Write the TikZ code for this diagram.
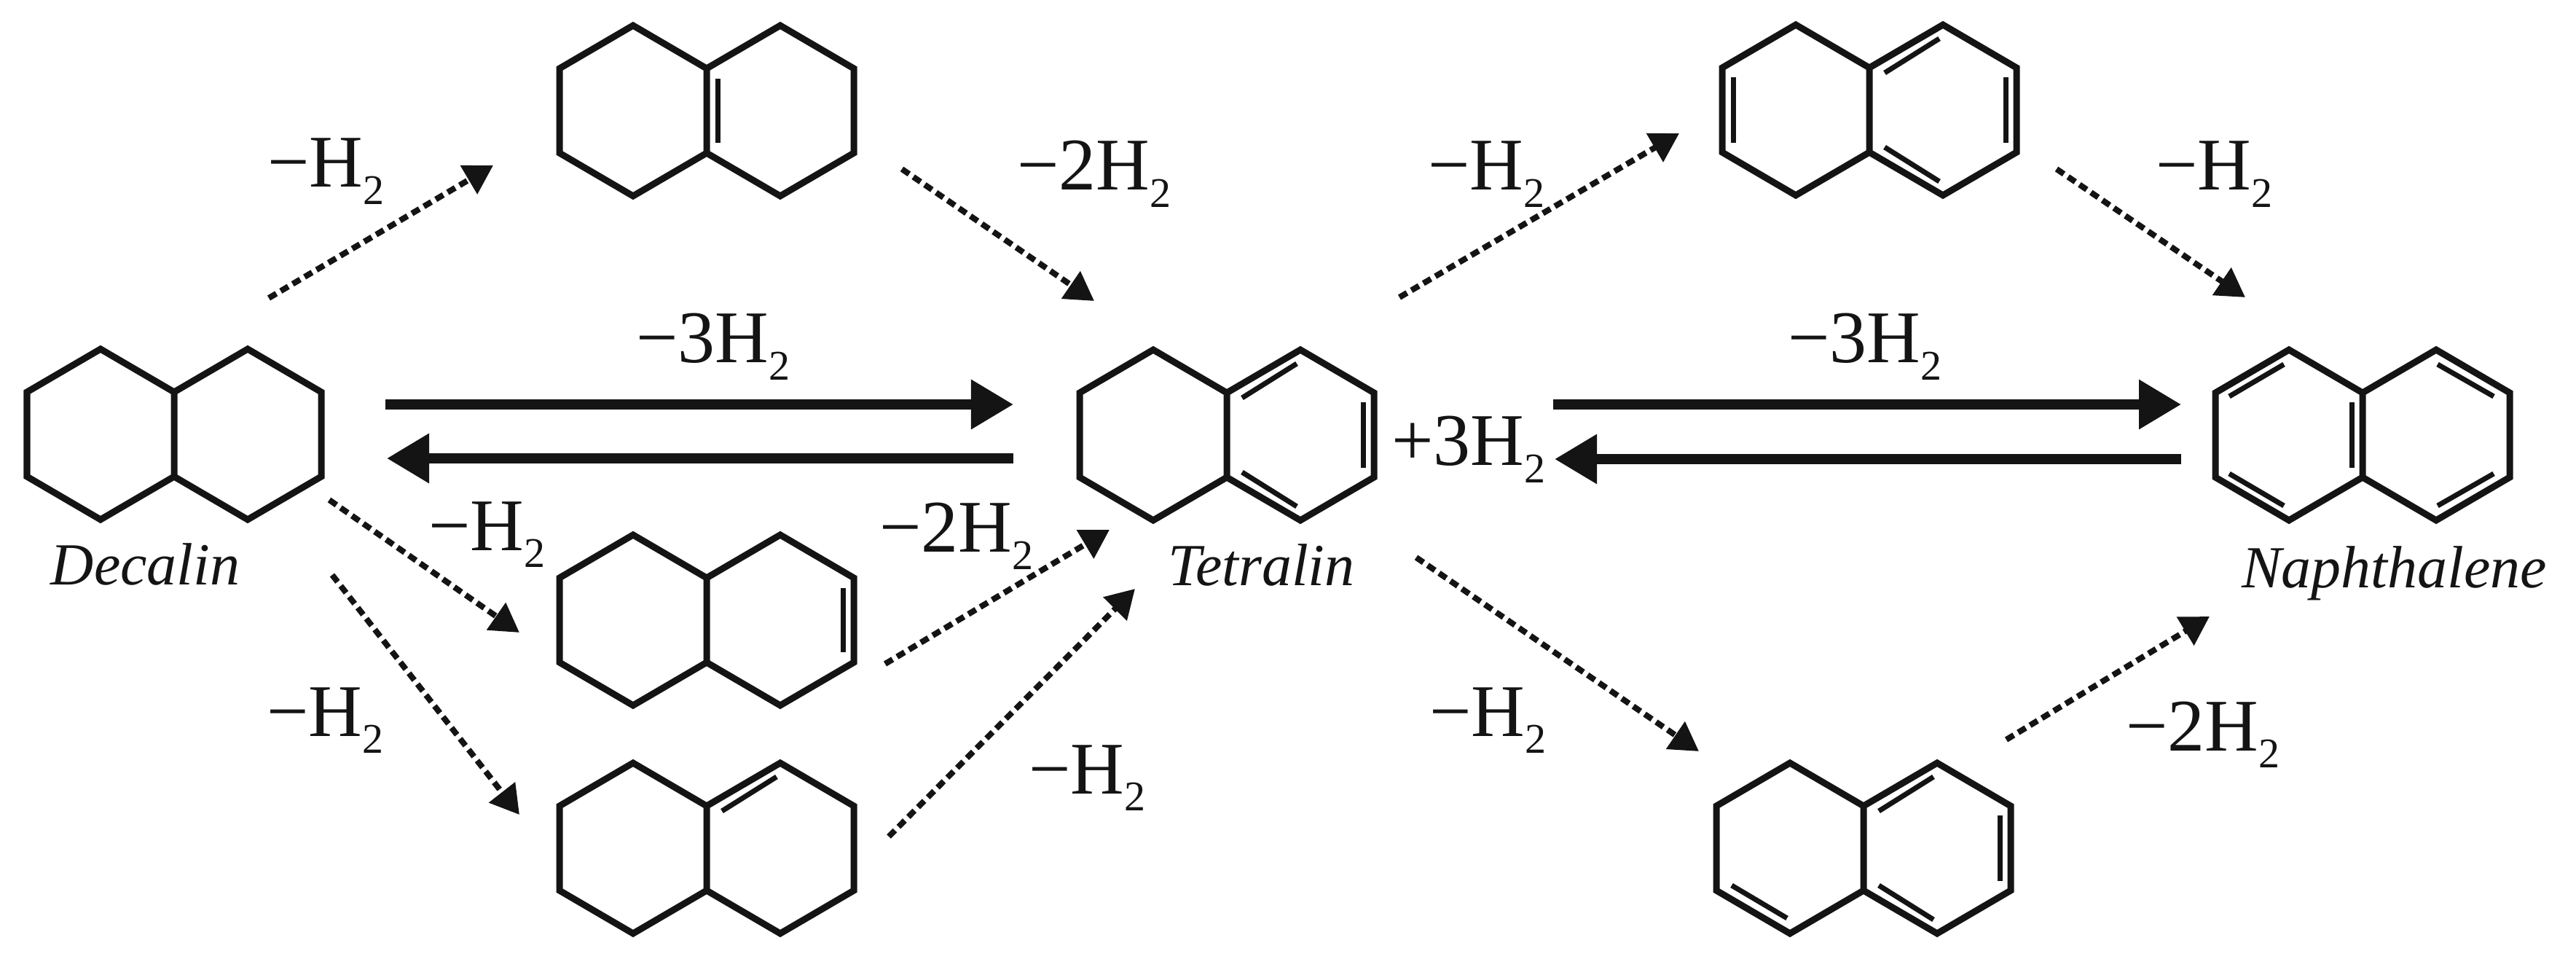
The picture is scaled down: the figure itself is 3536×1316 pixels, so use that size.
\documentclass[tikz,border=0pt]{standalone}
\usepackage{fontspec}
\setmainfont{Liberation Serif}
\usetikzlibrary{arrows.meta}
\definecolor{ink}{HTML}{141414}
\newcommand{\htwo}{H\raisebox{-0.23em}{\fontsize{16.5}{17}\selectfont 2}}
\tikzset{
	bond/.style={draw=ink, line width=0.09cm, line join=miter},
	inner/.style={draw=ink, line width=0.07cm},
	dashedarrow/.style={draw=ink, line width=0.08cm, dash pattern=on 0.12cm off 0.07cm, -{Triangle[length=0.39cm,width=0.44cm]}},
	fullarrow/.style={draw=ink, line width=0.13cm, -{Triangle[length=0.58cm,width=0.65cm]}},
	loss/.style={anchor=base west, inner sep=0pt, outer sep=0pt, text=ink, font=\fontsize{29}{30}\selectfont},
	title/.style={anchor=base west, inner sep=0pt, outer sep=0pt, text=ink, font=\fontsize{23.3}{25}\selectfont\itshape},
	twinring/.pic={
		\draw[bond] (-202,-58) -- (-101,-117) -- (0,-58) -- (101,-117) -- (202,-58) -- (202,58)
			-- (101,117) -- (0,58) -- (-101,117) -- (-202,58) -- cycle (0,-58) -- (0,58);
	}
}
\begin{document}
\begin{tikzpicture}[x=0.01cm, y=-0.01cm]
	\useasboundingbox (0,0) rectangle (3536,1316);
	\fill[white] (0,0) rectangle (3536,1316);
	% the seven molecules
	\foreach \mol/\x/\y in {decalin/239/596, octalinA/970/152, octalinB/970/851, octalinC/970/1164,
		tetralin/1684/597, dihydroA/2566/151, dihydroB/2558/1164, naphthalene/3243/597}{
		\coordinate (\mol) at (\x,\y);
		\pic at (\mol) {twinring};
	}
	% inner lines of the double bonds
	\begin{scope}[shift={(octalinA)}]
		\draw[inner] (15,-44) -- (15,44);
	\end{scope}
	\begin{scope}[shift={(octalinB)}]
		\draw[inner] (187,-44) -- (187,44);
	\end{scope}
	\begin{scope}[shift={(octalinC)}]
		\draw[inner] (21,-51) -- (96,-98);
	\end{scope}
	\foreach \mol in {tetralin,dihydroA,dihydroB}{
		\begin{scope}[shift={(\mol)}]
			\draw[inner] (21,-51) -- (96,-98);
			\draw[inner] (21,51) -- (96,98);
			\draw[inner] (187,-45) -- (187,45);
		\end{scope}
	}
	\begin{scope}[shift={(dihydroA)}]
		\draw[inner] (-187,-45) -- (-187,45);
	\end{scope}
	\begin{scope}[shift={(dihydroB)}]
		\draw[inner] (-181,51) -- (-105,96);
	\end{scope}
	\begin{scope}[shift={(naphthalene)}]
		\draw[inner] (-183,-53) -- (-108,-97);
		\draw[inner] (-183,53) -- (-108,97);
		\draw[inner] (-15,-45) -- (-15,45);
		\draw[inner] (103,-97) -- (180,-53);
		\draw[inner] (103,97) -- (180,53);
	\end{scope}
	% arrow ends
	\foreach \n/\a/\b/\c/\d in {a/369/409/677/227, b/1238/232/1502/413, c/1921/408/2305/183, d/2823/232/3082/408,
		e/452/686/713/868, f/456/789/713/1118, g/1215/911/1523/727, h/1220/1148/1558/808,
		i/1944/765/2332/1031, j/2754/1015/3033/846}{
		\coordinate (\n from) at (\a,\b);
		\coordinate (\n to) at (\c,\d);
		\draw[dashedarrow] (\n from) -- (\n to);
	}
	\foreach \n/\a/\b/\c/\d in {k/529/555/1391/555, l/1391/629/531/629, m/2132/555/2994/555, n/2994/630/2134/630}{
		\coordinate (\n from) at (\a,\b);
		\coordinate (\n to) at (\c,\d);
		\draw[fullarrow] (\n from) -- (\n to);
	}
	% labels
	\node[loss] (lossA) at (367,257) {−\htwo};
	\node[loss] (lossB) at (1396,261) {−2\htwo};
	\node[loss] (lossC) at (1960,261) {−\htwo};
	\node[loss] (lossD) at (2959,261) {−\htwo};
	\node[loss] (lossE) at (873,498) {−3\htwo};
	\node[loss] (lossF) at (2454,498) {−3\htwo};
	\node[loss] (lossG) at (588,755) {−\htwo};
	\node[loss] (lossH) at (1207,758) {−2\htwo};
	\node[loss] (lossI) at (366,1010) {−\htwo};
	\node[loss] (lossJ) at (1412,1089) {−\htwo};
	\node[loss] (lossK) at (1962,1010) {−\htwo};
	\node[loss] (lossL) at (2918,1030) {−2\htwo};
	\node[loss] (gain) at (1910,639) {+3\htwo};
	\node[title] (decalinname) at (70,803) {Decalin};
	\node[title] (tetralinname) at (1603,804) {Tetralin};
	\node[title] (naphthalenename) at (3077,807) {Naphthalene};
\end{tikzpicture}
\end{document}
